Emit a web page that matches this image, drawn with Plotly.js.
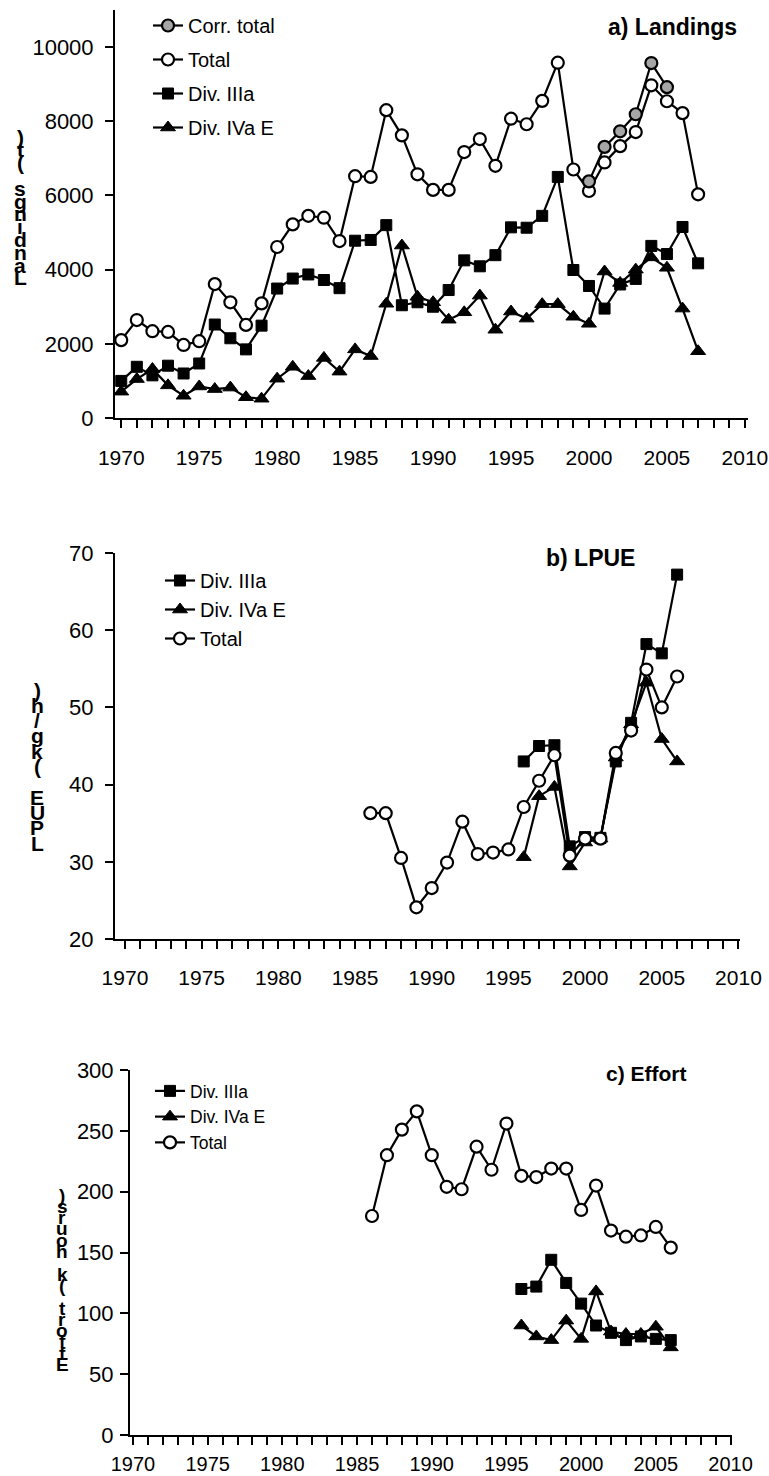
<!DOCTYPE html>
<html>
<head>
<meta charset="utf-8">
<script src="https://cdn.plot.ly/plotly-3.0.1.min.js"></script>
<style>html,body{margin:0;padding:0;background:#fff}#chart{width:769px;height:1476px}</style>
</head>
<body>
<div id="chart"></div>
<script>
// ---------- DATA ----------
const landYears = [1970,1971,1972,1973,1974,1975,1976,1977,1978,1979,1980,1981,1982,1983,1984,1985,1986,1987,1988,1989,1990,1991,1992,1993,1994,1995,1996,1997,1998,1999,2000,2001,2002,2003,2004,2005,2006,2007];
const landTotal = [2100,2640,2340,2320,1970,2070,3610,3120,2510,3090,4610,5220,5450,5400,4770,6520,6500,8300,7620,6570,6150,6150,7170,7520,6800,8070,7920,8550,9580,6700,6120,6890,7330,7710,8970,8540,8220,6030];
const landDivIIIa = [1000,1380,1150,1410,1200,1470,2520,2150,1850,2490,3490,3760,3870,3720,3500,4780,4800,5200,3040,3120,3000,3450,4250,4090,4390,5140,5130,5450,6500,3990,3560,2950,3600,3750,4640,4420,5150,4170];
const landDivIVaE = [710,1050,1320,880,600,850,780,820,560,520,1060,1380,1130,1620,1250,1850,1670,3080,4650,3270,3120,2650,2850,3300,2380,2870,2680,3070,3070,2730,2540,3950,3640,4000,4330,4050,2950,1800];
const corrYears = [2000,2001,2002,2003,2004,2005];
const corrTotal = [6380,7310,7730,8190,9570,8920];

const lpueTotalYears = [1986,1987,1988,1989,1990,1991,1992,1993,1994,1995,1996,1997,1998,1999,2000,2001,2002,2003,2004,2005,2006];
const lpueTotal = [36.3,36.3,30.5,24.1,26.6,29.9,35.2,31.0,31.2,31.6,37.1,40.5,43.8,30.8,33.0,33.0,44.1,47.0,54.9,50.0,54.0];
const lpueDivYears = [1996,1997,1998,1999,2000,2001,2002,2003,2004,2005,2006];
const lpueDivIIIa = [43.0,45.0,45.1,32.0,33.2,33.1,43.0,48.0,58.2,57.0,67.2];
const lpueDivIVaE = [30.6,38.5,39.7,29.4,32.5,33.0,43.5,47.8,53.2,45.9,43.0];

const effortTotalYears = [1986,1987,1988,1989,1990,1991,1992,1993,1994,1995,1996,1997,1998,1999,2000,2001,2002,2003,2004,2005,2006];
const effortTotal = [180,230,251,266,230,204,202,237,218,256,213,212,219,219,185,205,168,163,164,171,154];
const effortDivYears = [1996,1997,1998,1999,2000,2001,2002,2003,2004,2005,2006];
const effortDivIIIa = [120,122,144,125,108,90,84,78,81,79,78];
const effortDivIVaE = [90,81,78,94,79,118,85,83,83,89,72];

const xTickVals = [1970,1975,1980,1985,1990,1995,2000,2005,2010];
const panelTitles = ["a) Landings","b) LPUE","c) Effort"];
const yTitles = ["Landings (t)","LPUE (kg/h)","Effort (k hours)"];
const seriesNames = {corr:"Corr. total", total:"Total", iiia:"Div. IIIa", ivae:"Div. IVa E"};

// ---------- STYLE ----------
const W = 769, H = 1476;
const px = x => x / W;
const py = y => 1 - y / H;
const FONT = '"Liberation Sans",Arial,sans-serif';

const mOpen = {symbol:'circle', size:12, color:'#ffffff', line:{color:'#000', width:2.2}};
const mCorr = {symbol:'circle', size:12, color:'#a6a6a6', line:{color:'#000', width:2.2}};
const mSq = {symbol:'square', size:11, color:'#000', line:{color:'#000', width:1}};
const mTri = {symbol:'triangle-up', size:13, color:'#000', line:{color:'#000', width:1}};
const ln = {color:'#000', width:2.2};

function tr(x, y, name, marker, xa, ya, leg, rank) {
  return {x, y, name, type:'scatter', mode:'lines+markers', line:ln, marker,
          xaxis:xa, yaxis:ya, legend:leg, legendrank:rank, legendgroup:leg+name, cliponaxis:false};
}

const data = [
  tr(landYears, landDivIVaE, seriesNames.ivae, mTri, 'x', 'y', 'legend', 4),
  tr(landYears, landDivIIIa, seriesNames.iiia, mSq, 'x', 'y', 'legend', 3),
  tr(landYears, landTotal, seriesNames.total, mOpen, 'x', 'y', 'legend', 2),
  tr(corrYears, corrTotal, seriesNames.corr, mCorr, 'x', 'y', 'legend', 1),

  tr(lpueDivYears, lpueDivIVaE, seriesNames.ivae, mTri, 'x2', 'y2', 'legend2', 2),
  tr(lpueDivYears, lpueDivIIIa, seriesNames.iiia, mSq, 'x2', 'y2', 'legend2', 1),
  tr(lpueTotalYears, lpueTotal, seriesNames.total, mOpen, 'x2', 'y2', 'legend2', 3),

  tr(effortDivYears, effortDivIVaE, seriesNames.ivae, mTri, 'x3', 'y3', 'legend3', 2),
  tr(effortDivYears, effortDivIIIa, seriesNames.iiia, mSq, 'x3', 'y3', 'legend3', 1),
  tr(effortTotalYears, effortTotal, seriesNames.total, mOpen, 'x3', 'y3', 'legend3', 3)
];

const axBase = {showgrid:false, zeroline:false, showline:true, linecolor:'#000', linewidth:2,
  ticks:'outside', ticklen:8, tickwidth:2, tickcolor:'#000', ticklabeloverflow:'allow',
  tickfont:{family:FONT, size:21, color:'#000'}, fixedrange:true};

function xAx(domain, range, anchor, standoff, fs) {
  return Object.assign({}, axBase, {domain, range, anchor, tickmode:'array', tickvals:xTickVals,
    ticklabelstandoff:standoff, tickfont:{family:FONT, size:fs, color:'#000'},
    minor:{tickmode:'linear', tick0:1970, dtick:1, ticks:'outside', ticklen:8, tickwidth:2, tickcolor:'#000', showgrid:false}});
}
function yAx(domain, range, dtick, anchor, standoff) {
  return Object.assign({}, axBase, {domain, range, anchor, tickmode:'linear', tick0:0, dtick,
    tickformat:'d', ticklabelstandoff:standoff, tickfont:{family:FONT, size:22, color:'#000'}});
}

const legBase = {bgcolor:'rgba(0,0,0,0)', borderwidth:0, xanchor:'left', yanchor:'top',
  traceorder:'grouped', itemwidth:30};

const annotations = [];
const titlePos = [[739, 27, 23], [637, 558, 23], [689, 1073, 21]];
panelTitles.forEach((t, i) => annotations.push({text:'<b>'+t+'</b>', xref:'paper', yref:'paper',
  x:px(titlePos[i][0]), y:py(titlePos[i][1]), xanchor:'right', yanchor:'middle', showarrow:false,
  font:{family:FONT, size:titlePos[i][2], color:'#000'}}));

// vertical stacked (reversed) axis titles, as drawn in the reference
const yTitleLayout = [[20, 137, 12.8, 21], [37, 690, 15.3, 21], [62, 1195, 11.3, 19]];
yTitles.forEach((t, i) => {
  const chars = t.split('').reverse();
  const [cx, y0, step, fs] = yTitleLayout[i];
  chars.forEach((c, k) => {
    if (c === ' ') return;
    annotations.push({text:'<b>'+c+'</b>', xref:'paper', yref:'paper', x:px(cx), y:py(y0 + k*step),
      xanchor:'center', yanchor:'middle', showarrow:false,
      font:{family:FONT, size:fs, color:'#000'}});
  });
});

const layout = {
  width:W, height:H, margin:{l:0, r:0, t:0, b:0}, paper_bgcolor:'#fff', plot_bgcolor:'rgba(0,0,0,0)',
  showlegend:true,
  xaxis: xAx([px(115), px(748)], [1969.6, 2010.2], 'y', 12, 21),
  yaxis: yAx([py(418), py(10)], [0, 11000], 2000, 'x', 7),
  xaxis2: xAx([px(115), px(740)], [1969.35, 2010.1], 'y2', 11, 21),
  yaxis2: yAx([py(939), py(553)], [20, 70], 10, 'x2', 7),
  xaxis3: xAx([px(130), px(732)], [1969.8, 2010.1], 'y3', 2, 20),
  yaxis3: yAx([py(1435), py(1070)], [0, 300], 50, 'x3', 2),
  legend: Object.assign({}, legBase, {x:px(148), y:py(6), tracegroupgap:5, font:{family:FONT, size:20, color:'#000'}}),
  legend2: Object.assign({}, legBase, {x:px(160), y:py(561), tracegroupgap:0, font:{family:FONT, size:20, color:'#000'}}),
  legend3: Object.assign({}, legBase, {x:px(150), y:py(1073), tracegroupgap:0, font:{family:FONT, size:17.5, color:'#000'}}),
  annotations
};
Plotly.newPlot('chart', data, layout, {displayModeBar:false, staticPlot:true});
</script>
</body>
</html>
